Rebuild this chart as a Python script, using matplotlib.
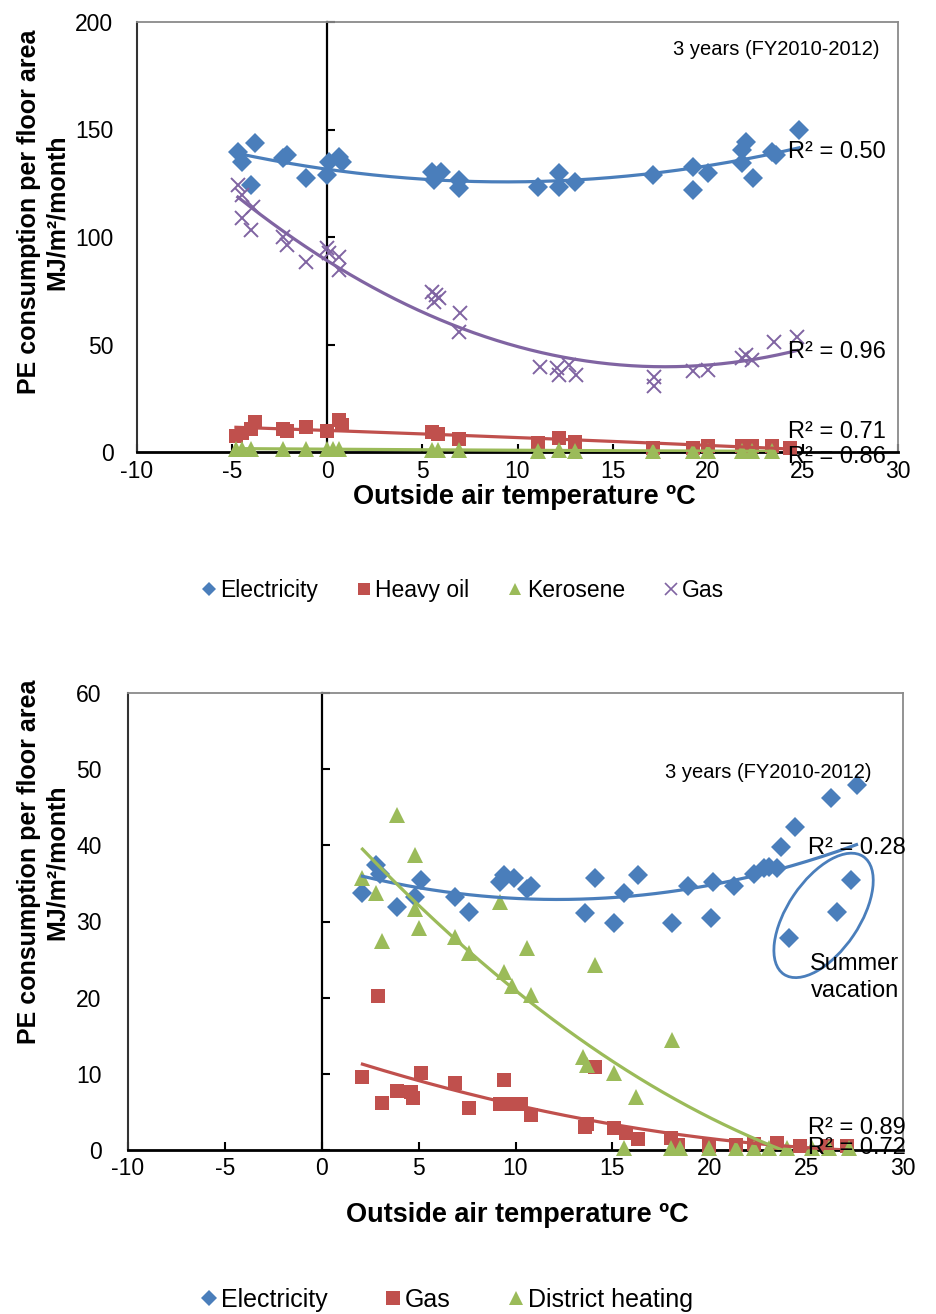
import numpy as np
import matplotlib
matplotlib.use("Agg")
import matplotlib.pyplot as plt
from matplotlib.lines import Line2D
from matplotlib.patches import Ellipse
import matplotlib.transforms as mtransforms

plt.rcParams['font.family'] = ['Liberation Sans', 'DejaVu Sans']
plt.rcParams['axes.unicode_minus'] = False

# ---------------- data: top chart (FY2010-2012) ----------------
top_elec_t = [-4.7, -4.5, -4.0, -3.8, -2.3, -2.1, -1.1, 0.0, 0.1, 0.6, 0.75, 5.5, 5.6, 6.0, 6.9, 6.9,
              11.1, 12.2, 12.2, 13.0, 17.1, 19.2, 19.2, 20.0, 21.8, 21.8, 22.0, 22.4, 23.4, 23.6, 24.8]
top_elec = [139.7, 135.0, 124.2, 143.6, 136.6, 138.1, 127.3, 128.8, 135.0, 137.4, 135.0, 130.4, 126.5, 130.4,
            126.5, 122.6, 123.4, 129.6, 123.4, 125.7, 128.8, 132.7, 121.9, 129.6, 134.3, 140.5, 144.3, 127.3,
            139.7, 138.1, 149.8]

top_oil_t = [-4.8, -4.5, -3.8, -4.0, -2.3, -2.1, -1.1, 0.0, 0.6, 0.75, 5.5, 5.8, 6.9, 11.1, 12.2, 13.0,
             17.1, 19.2, 20.0, 21.8, 22.3, 23.4, 24.3]
top_oil = [7.5, 9.0, 14.0, 10.5, 10.5, 10.0, 11.5, 10.0, 14.9, 12.5, 9.4, 8.5, 6.0, 4.0, 6.5, 4.5,
           2.0, 2.0, 3.0, 3.0, 3.0, 3.0, 2.0]

top_kero_t = [-4.8, -4.5, -4.0, -2.3, -1.1, 0.0, 0.3, 0.6, 5.5, 5.8, 6.9, 11.1, 12.2, 13.0,
              17.1, 19.2, 20.0, 21.8, 22.3, 23.4]
top_kero = [1.4, 1.6, 1.3, 1.4, 1.5, 1.3, 1.6, 1.4, 1.1, 1.0, 0.9, 0.6, 0.7, 0.6,
            0.4, 0.4, 0.4, 0.4, 0.4, 0.4]

top_gas_t = [-4.7, -4.5, -4.5, -3.9, -4.0, -2.3, -2.1, -1.1, 0.0, 0.1, 0.6, 0.6, 5.5, 5.7, 5.9, 5.6, 7.0, 6.9,
             11.2, 12.1, 12.2, 12.7, 13.1, 17.2, 17.2, 19.2, 20.0, 21.8, 22.0, 22.3, 23.5, 24.7]
top_gas = [124.2, 119.5, 108.7, 114.1, 103.3, 100.1, 96.3, 88.5, 94.7, 92.4, 90.8, 84.7, 74.6, 73.0, 71.5, 69.9,
           64.5, 56.0, 39.5, 39.0, 35.8, 40.5, 35.8, 34.9, 30.7, 37.7, 38.1, 43.7, 45.1, 42.8, 51.2, 53.6]

top_series = ["Electricity", "Heavy oil", "Kerosene", "Gas"]
top_r2 = ["R² = 0.50", "R² = 0.71", "R² = 0.86", "R² = 0.96"]

# ---------------- data: bottom chart ----------------
bot_elec_t = [2.1, 2.8, 3.0, 3.9, 4.8, 5.1, 6.9, 7.6, 9.2, 9.4, 9.9, 10.6, 10.8, 13.6, 14.1, 15.1, 15.6, 16.3,
              18.1, 18.9, 20.1, 20.2, 21.3, 22.3, 22.8, 23.1, 23.5, 23.7, 24.4, 24.1, 26.3, 27.6, 27.3, 26.6]
bot_elec = [33.7, 37.4, 36.3, 31.9, 33.2, 35.4, 33.2, 31.3, 35.2, 36.1, 35.7, 34.3, 34.6, 31.1, 35.7, 29.8,
            33.7, 36.1, 29.8, 34.6, 30.4, 35.2, 34.6, 36.3, 37.0, 37.2, 37.0, 39.8, 42.4, 27.8, 46.2, 47.9,
            35.4, 31.2]

bot_gas_t = [2.1, 2.9, 3.1, 3.9, 4.6, 4.7, 5.1, 6.9, 7.6, 9.2, 9.4, 9.9, 10.3, 10.8, 13.6, 13.7, 14.1, 15.1,
             15.7, 16.3, 18.0, 18.4, 20.0, 21.4, 22.3, 23.5, 24.7, 26.1, 27.1]
bot_gas = [9.6, 20.2, 6.2, 7.7, 7.6, 6.8, 10.1, 8.8, 5.5, 6.1, 9.2, 6.1, 6.1, 4.6, 3.0, 3.4, 10.9, 2.9,
           2.2, 1.4, 1.6, 0.7, 0.5, 0.6, 0.8, 0.9, 0.5, 0.5, 0.5]

bot_dh_t = [2.1, 2.8, 3.1, 3.9, 4.8, 4.8, 5.0, 6.9, 7.6, 9.2, 9.4, 9.8, 10.6, 10.8, 13.5, 13.7, 14.1, 15.1,
            16.2, 18.1, 15.6, 18.0, 18.5, 20.0, 21.4, 22.3, 23.1, 24.0, 25.3, 26.2, 27.2]
bot_dh = [35.7, 33.7, 27.4, 44.0, 38.7, 31.7, 29.1, 28.0, 25.8, 32.6, 23.4, 21.5, 26.5, 20.3, 12.2, 11.2,
          24.3, 10.1, 7.0, 14.4, 0.3, 0.3, 0.3, 0.3, 0.3, 0.3, 0.3, 0.3, 0.3, 0.3, 0.3]

bot_series = ["Electricity", "Gas", "District heating"]
bot_r2 = ["R² = 0.28", "R² = 0.72", "R² = 0.89"]

x_ticks = list(range(-10, 31, 5))
top_y_ticks = list(range(0, 201, 50))
bot_y_ticks = list(range(0, 61, 10))
note_text = "3 years (FY2010-2012)"
x_label = "Outside air temperature ºC"
y_label = "PE consumption per floor area\nMJ/m²/month"

# ---------------- styles ----------------
BLUE = "#4A7EBB"
RED = "#C0504D"
GREEN = "#9BBB59"
PURPLE = "#8064A2"
TICK_FS = 16.5
W, H = 936, 1314

fig = plt.figure(figsize=(W / 100, H / 100), dpi=100)


def px_axes(left, top, right, bottom):
    return fig.add_axes([left / W, 1 - bottom / H, (right - left) / W, (bottom - top) / H])


def style_axes(ax, ylim, yticks, ypad, xpad):
    ax.set_xlim(-10, 30)
    ax.set_ylim(*ylim)
    ax.set_xticks(x_ticks)
    ax.set_yticks(yticks)
    ax.tick_params(axis='y', length=0, pad=ypad, labelsize=TICK_FS)
    ax.tick_params(axis='x', direction='in', length=6, width=1.5, pad=xpad, labelsize=TICK_FS)
    for s in ['top', 'right']:
        ax.spines[s].set_color('#8a8a8a')
        ax.spines[s].set_linewidth(1.3)
    ax.spines['left'].set_color('#333333')
    ax.spines['left'].set_linewidth(1.5)
    ax.spines['bottom'].set_color('black')
    ax.spines['bottom'].set_linewidth(2.0)
    sec = ax.secondary_yaxis(0.25)
    sec.set_yticks(yticks)
    sec.tick_params(axis='y', direction='in', length=6, width=1.5, labelleft=False, labelright=False)
    sec.spines['left'].set_linewidth(1.6)
    sec.spines['left'].set_color('black')


def trend(ax, xs, ys, color, z=4):
    c = np.polyfit(xs, ys, 2)
    xx = np.linspace(min(xs), max(xs), 200)
    ax.plot(xx, np.polyval(c, xx), color=color, lw=2.3, zorder=z, clip_on=True)


MS_D, MS_S, MS_T, MS_X = 11.5, 10.5, 11.5, 10.5

# ---------------- top chart ----------------
ax1 = px_axes(137, 22, 898, 452)
style_axes(ax1, (0, 200), top_y_ticks, 17, 6)

ax1.plot(top_elec_t, top_elec, 'D', color=BLUE, ms=MS_D * 0.85, mew=0, zorder=3, clip_on=False)
ax1.plot(top_oil_t, top_oil, 's', color=RED, ms=MS_S, mew=0, zorder=3, clip_on=False)
ax1.plot(top_kero_t, top_kero, '^', color=GREEN, ms=MS_T, mew=0, zorder=3, clip_on=False)
ax1.plot(top_gas_t, top_gas, 'x', color=PURPLE, ms=MS_X, mew=1.4, zorder=3, clip_on=False)
trend(ax1, top_elec_t, top_elec, BLUE)
trend(ax1, top_oil_t, top_oil, RED)
trend(ax1, top_kero_t, top_kero, GREEN)
trend(ax1, top_gas_t, top_gas, PURPLE)

r2_fs = 17
ax1.text(24.2, 139.5, top_r2[0], fontsize=r2_fs, va='center', ha='left', zorder=6)
ax1.text(24.2, 46.5, top_r2[3], fontsize=r2_fs, va='center', ha='left', zorder=6)
ax1.text(24.2, 9.3, top_r2[1], fontsize=r2_fs, va='center', ha='left', zorder=6)
ax1.text(24.2, -2.3, top_r2[2], fontsize=r2_fs, va='center', ha='left', zorder=6, clip_on=False)
ax1.text(0.976, 0.935, note_text, transform=ax1.transAxes, fontsize=14.5, ha='right', va='center')

fig.text(524 / W, 1 - 497 / H, x_label, fontsize=19.5, fontweight='bold', ha='center', va='center')
fig.text(43 / W, 1 - 212 / H, y_label, fontsize=18, fontweight='bold', rotation=90,
         ha='center', va='center', multialignment='center', linespacing=1.2)

h1 = [Line2D([], [], ls='none', marker='D', color=BLUE, ms=7.5, mew=0),
      Line2D([], [], ls='none', marker='s', color=RED, ms=9, mew=0),
      Line2D([], [], ls='none', marker='^', color=GREEN, ms=9, mew=0),
      Line2D([], [], ls='none', marker='x', color=PURPLE, ms=8, mew=1.2)]
fig.legend(h1, top_series, loc='center', bbox_to_anchor=(462 / W, 1 - 591 / H), ncol=4, frameon=False,
           fontsize=16.5, handlelength=0.8, handletextpad=0.1, columnspacing=1.6)

# ---------------- bottom chart ----------------
ax2 = px_axes(128, 693, 903, 1150)
style_axes(ax2, (0, 60), bot_y_ticks, 19, 5)

ax2.plot(bot_elec_t, bot_elec, 'D', color=BLUE, ms=MS_D * 0.85, mew=0, zorder=3, clip_on=False)
ax2.plot(bot_gas_t, bot_gas, 's', color=RED, ms=MS_S, mew=0, zorder=3, clip_on=False)
ax2.plot(bot_dh_t, bot_dh, '^', color=GREEN, ms=MS_T, mew=0, zorder=3, clip_on=False)
trend(ax2, bot_elec_t, bot_elec, BLUE)
trend(ax2, bot_gas_t, bot_gas, RED)
trend(ax2, bot_dh_t, bot_dh, GREEN)

ax2.text(25.1, 39.6, bot_r2[0], fontsize=r2_fs, va='center', ha='left', zorder=6)
ax2.text(25.1, 2.9, bot_r2[2], fontsize=r2_fs, va='center', ha='left', zorder=6)
ax2.text(25.1, 0.3, bot_r2[1], fontsize=r2_fs, va='center', ha='left', zorder=6, clip_on=False)
ax2.text(0.96, 0.825, note_text, transform=ax2.transAxes, fontsize=14.5, ha='right', va='center')
ax2.text(27.5, 22.6, "Summer\nvacation", fontsize=17, ha='center', va='center', linespacing=1.3, zorder=6)

ell_tr = fig.dpi_scale_trans + mtransforms.ScaledTranslation(25.9, 30.8, ax2.transData)
ax2.add_patch(Ellipse((0, 0), width=1.42, height=0.72, angle=56, transform=ell_tr,
                      fill=False, edgecolor=BLUE, lw=2.0, zorder=5, clip_on=False))

fig.text(517 / W, 1 - 1215 / H, x_label, fontsize=19.5, fontweight='bold', ha='center', va='center')
fig.text(43 / W, 1 - 862 / H, y_label, fontsize=18, fontweight='bold', rotation=90,
         ha='center', va='center', multialignment='center', linespacing=1.2)

h2 = [Line2D([], [], ls='none', marker='D', color=BLUE, ms=8, mew=0),
      Line2D([], [], ls='none', marker='s', color=RED, ms=10, mew=0),
      Line2D([], [], ls='none', marker='^', color=GREEN, ms=10, mew=0)]
fig.legend(h2, bot_series, loc='center', bbox_to_anchor=(446 / W, 1 - 1300 / H), ncol=3, frameon=False,
           fontsize=18, handlelength=0.8, handletextpad=0.1, columnspacing=2.2)

fig.savefig("out.png", dpi=100)
